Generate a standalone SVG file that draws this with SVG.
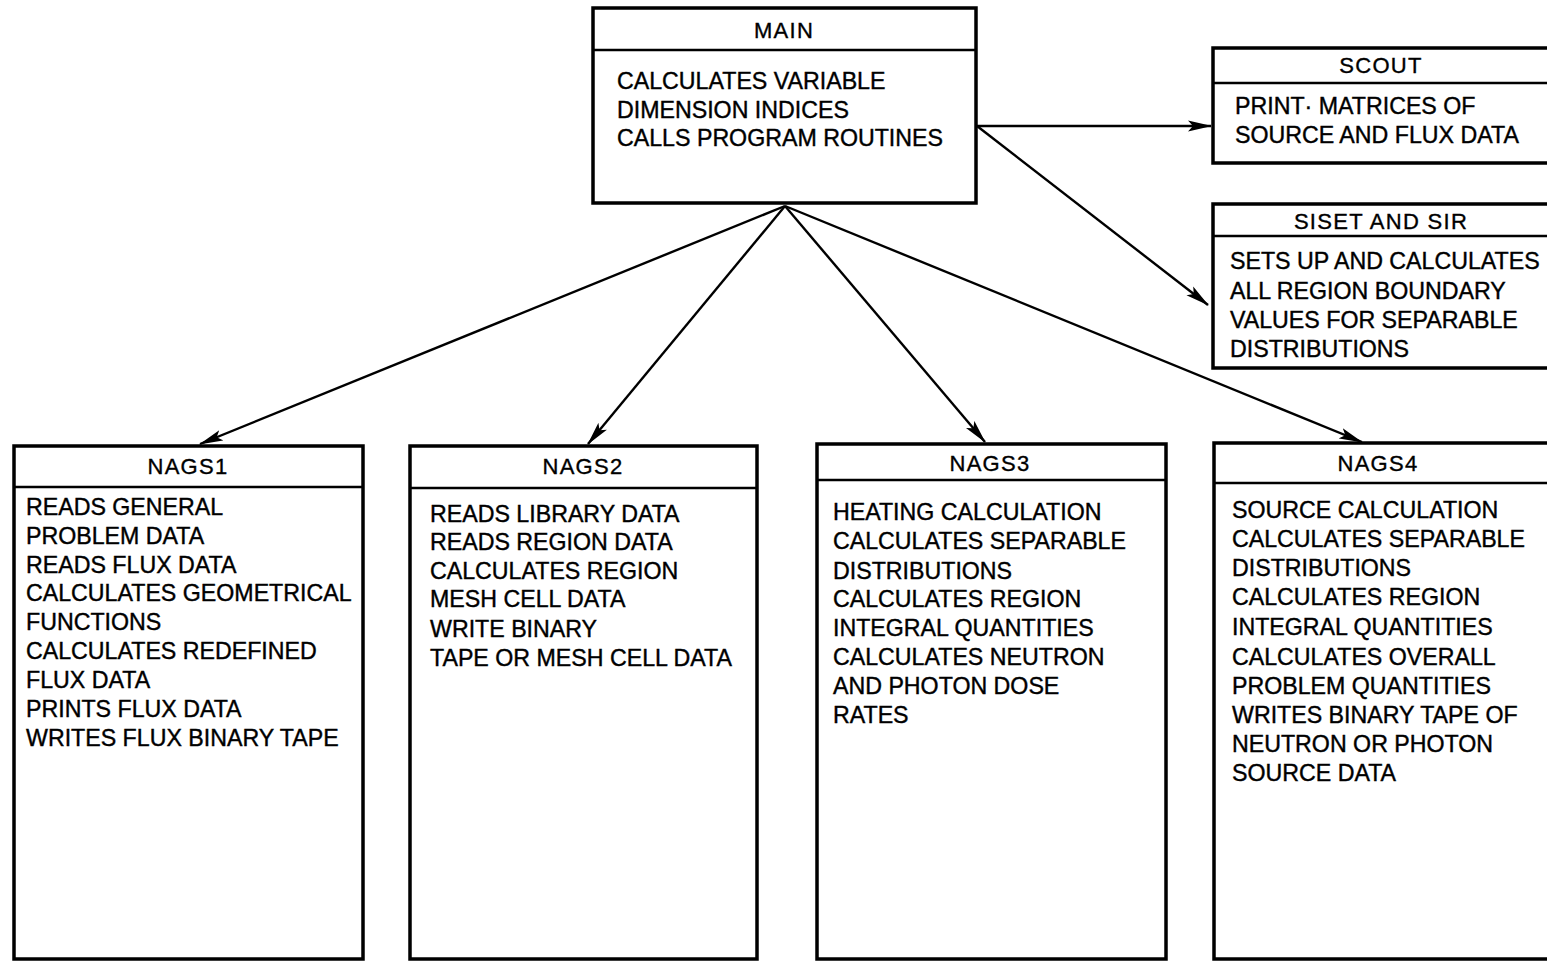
<svg xmlns="http://www.w3.org/2000/svg" width="1547" height="962" viewBox="0 0 1547 962">
  <style>
    .box { fill: #fff; stroke: #000; stroke-width: 3.5; }
    .div { stroke: #000; stroke-width: 2.5; }
    .hd { font-family: "Liberation Sans", Arial, sans-serif; font-size: 22px; letter-spacing: 1.3px; text-anchor: middle; fill: #000; stroke: #000; stroke-width: 0.35; }
    .tx { font-family: "Liberation Sans", Arial, sans-serif; font-size: 23.2px; fill: #000; stroke: #000; stroke-width: 0.4; }
    .conn { stroke: #000; stroke-width: 2.4; fill: none; marker-end: url(#arrow); }
  </style>
  <defs>
    <marker id="arrow" viewBox="0 0 24 12" refX="23" refY="6" markerWidth="24" markerHeight="12" markerUnits="userSpaceOnUse" orient="auto">
      <path d="M0,0.5 L24,6 L0,11.5 L5,6 Z" fill="#000"/>
    </marker>
  </defs>

  <rect width="1547" height="962" fill="#fff"/>

  <!-- call connectors -->
  <g id="connectors">
    <line class="conn" x1="977" y1="126" x2="1211" y2="126"/>
    <line class="conn" x1="977" y1="126" x2="1208" y2="305"/>
    <line class="conn" x1="785" y1="206" x2="200" y2="444"/>
    <line class="conn" x1="785" y1="206" x2="588" y2="444"/>
    <line class="conn" x1="785" y1="206" x2="985" y2="442"/>
    <line class="conn" x1="785" y1="206" x2="1362" y2="442"/>
  </g>

  <g id="main">
    <rect class="box" x="593" y="8" width="383" height="195"/>
    <line class="div" x1="593" y1="50" x2="976" y2="50"/>
    <text class="hd" x="784" y="38">MAIN</text>
    <text class="tx" x="617" y="89">CALCULATES VARIABLE</text>
    <text class="tx" x="617" y="118">DIMENSION INDICES</text>
    <text class="tx" x="617" y="146">CALLS PROGRAM ROUTINES</text>
  </g>

  <g id="scout">
    <rect class="box" x="1213" y="48" width="340" height="115"/>
    <line class="div" x1="1213" y1="83" x2="1547" y2="83"/>
    <text class="hd" x="1381" y="73">SCOUT</text>
    <text class="tx" x="1235" y="114">PRINT· MATRICES OF</text>
    <text class="tx" x="1235" y="143">SOURCE AND FLUX DATA</text>
  </g>

  <g id="siset">
    <rect class="box" x="1213" y="204" width="340" height="164"/>
    <line class="div" x1="1213" y1="236" x2="1547" y2="236"/>
    <text class="hd" x="1381" y="229">SISET AND SIR</text>
    <text class="tx" x="1230" y="269">SETS UP AND CALCULATES</text>
    <text class="tx" x="1230" y="299">ALL REGION BOUNDARY</text>
    <text class="tx" x="1230" y="328">VALUES FOR SEPARABLE</text>
    <text class="tx" x="1230" y="357">DISTRIBUTIONS</text>
  </g>

  <g id="nags1">
    <rect class="box" x="14" y="446" width="349" height="513"/>
    <line class="div" x1="14" y1="487" x2="363" y2="487"/>
    <text class="hd" x="188" y="474">NAGS1</text>
    <text class="tx" x="26" y="515">READS GENERAL</text>
    <text class="tx" x="26" y="544">PROBLEM DATA</text>
    <text class="tx" x="26" y="573">READS FLUX DATA</text>
    <text class="tx" x="26" y="601">CALCULATES GEOMETRICAL</text>
    <text class="tx" x="26" y="630">FUNCTIONS</text>
    <text class="tx" x="26" y="659">CALCULATES REDEFINED</text>
    <text class="tx" x="26" y="688">FLUX DATA</text>
    <text class="tx" x="26" y="717">PRINTS FLUX DATA</text>
    <text class="tx" x="26" y="746">WRITES FLUX BINARY TAPE</text>
  </g>

  <g id="nags2">
    <rect class="box" x="410" y="446" width="347" height="513"/>
    <line class="div" x1="410" y1="488" x2="757" y2="488"/>
    <text class="hd" x="583" y="474">NAGS2</text>
    <text class="tx" x="430" y="522">READS LIBRARY DATA</text>
    <text class="tx" x="430" y="550">READS REGION DATA</text>
    <text class="tx" x="430" y="579">CALCULATES REGION</text>
    <text class="tx" x="430" y="607">MESH CELL DATA</text>
    <text class="tx" x="430" y="637">WRITE BINARY</text>
    <text class="tx" x="430" y="666">TAPE  OR MESH CELL DATA</text>
  </g>

  <g id="nags3">
    <rect class="box" x="817" y="444" width="349" height="515"/>
    <line class="div" x1="817" y1="480" x2="1166" y2="480"/>
    <text class="hd" x="990" y="471">NAGS3</text>
    <text class="tx" x="833" y="520">HEATING CALCULATION</text>
    <text class="tx" x="833" y="549">CALCULATES SEPARABLE</text>
    <text class="tx" x="833" y="579">DISTRIBUTIONS</text>
    <text class="tx" x="833" y="607">CALCULATES REGION</text>
    <text class="tx" x="833" y="636">INTEGRAL QUANTITIES</text>
    <text class="tx" x="833" y="665">CALCULATES NEUTRON</text>
    <text class="tx" x="833" y="694">AND PHOTON DOSE</text>
    <text class="tx" x="833" y="723">RATES</text>
  </g>

  <g id="nags4">
    <rect class="box" x="1214" y="443" width="340" height="516"/>
    <line class="div" x1="1214" y1="483" x2="1547" y2="483"/>
    <text class="hd" x="1378" y="471">NAGS4</text>
    <text class="tx" x="1232" y="518">SOURCE CALCULATION</text>
    <text class="tx" x="1232" y="547">CALCULATES SEPARABLE</text>
    <text class="tx" x="1232" y="576">DISTRIBUTIONS</text>
    <text class="tx" x="1232" y="605">CALCULATES REGION</text>
    <text class="tx" x="1232" y="635">INTEGRAL QUANTITIES</text>
    <text class="tx" x="1232" y="665">CALCULATES OVERALL</text>
    <text class="tx" x="1232" y="694">PROBLEM QUANTITIES</text>
    <text class="tx" x="1232" y="723">WRITES BINARY TAPE OF</text>
    <text class="tx" x="1232" y="752">NEUTRON OR PHOTON</text>
    <text class="tx" x="1232" y="781">SOURCE DATA</text>
  </g>
</svg>
